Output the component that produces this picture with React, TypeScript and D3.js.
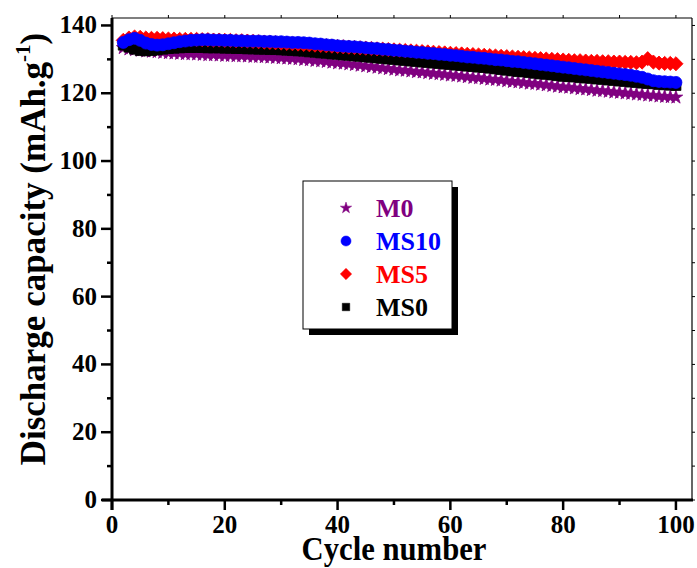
import React from "react";
import * as d3 from "d3";

const cycles = [
  2, 3, 4, 5, 6, 7, 8, 9, 10, 11, 12, 13, 14, 15, 16, 17, 18, 19, 20, 21,
  22, 23, 24, 25, 26, 27, 28, 29, 30, 31, 32, 33, 34, 35, 36, 37, 38, 39, 40, 41,
  42, 43, 44, 45, 46, 47, 48, 49, 50, 51, 52, 53, 54, 55, 56, 57, 58, 59, 60, 61,
  62, 63, 64, 65, 66, 67, 68, 69, 70, 71, 72, 73, 74, 75, 76, 77, 78, 79, 80, 81,
  82, 83, 84, 85, 86, 87, 88, 89, 90, 91, 92, 93, 94, 95, 96, 97, 98, 99, 100,
];

const m0 = [
  133.4, 133.0, 132.8, 132.6, 132.4, 132.3, 132.2, 132.0, 131.9, 131.8, 131.7, 131.6, 131.6, 131.5, 131.4, 131.3, 131.3, 131.2, 131.1, 131.1,
  131.0, 131.0, 130.9, 130.8, 130.8, 130.7, 130.6, 130.5, 130.4, 130.3, 130.2, 130.1, 129.9, 129.8, 129.6, 129.5, 129.3, 129.1, 128.9, 128.8,
  128.6, 128.4, 128.2, 128.0, 127.8, 127.6, 127.4, 127.2, 127.0, 126.8, 126.7, 126.5, 126.3, 126.2, 126.0, 125.8, 125.7, 125.5, 125.3, 125.2,
  125.0, 124.8, 124.6, 124.5, 124.3, 124.1, 124.0, 123.8, 123.6, 123.4, 123.3, 123.1, 122.9, 122.8, 122.6, 122.4, 122.2, 122.0, 121.8, 121.7,
  121.5, 121.3, 121.2, 121.0, 120.8, 120.7, 120.5, 120.3, 120.2, 120.0, 119.9, 119.7, 119.6, 119.4, 119.3, 119.1, 119.0, 118.9, 118.8,
];

const ms0 = [
  134.2, 133.6, 133.0, 132.6, 132.5, 132.6, 132.8, 133.0, 133.2, 133.3, 133.4, 133.5, 133.5, 133.5, 133.5, 133.4, 133.4, 133.4, 133.3, 133.3,
  133.2, 133.2, 133.1, 133.1, 133.0, 133.0, 132.9, 132.9, 132.8, 132.7, 132.6, 132.5, 132.4, 132.2, 132.1, 131.9, 131.8, 131.6, 131.5, 131.3,
  131.2, 131.0, 130.9, 130.7, 130.6, 130.4, 130.3, 130.1, 130.0, 129.8, 129.7, 129.5, 129.4, 129.2, 129.1, 128.9, 128.8, 128.6, 128.5, 128.3,
  128.2, 128.0, 127.9, 127.7, 127.6, 127.4, 127.2, 127.0, 126.8, 126.6, 126.4, 126.3, 126.1, 125.9, 125.7, 125.6, 125.4, 125.2, 125.0, 124.9,
  124.8, 124.6, 124.5, 124.4, 124.2, 124.1, 123.9, 123.8, 123.6, 123.5, 123.3, 123.2, 123.0, 122.9, 122.8, 122.6, 122.5, 122.4, 122.3,
];

const ms10 = [
  135.0, 135.8, 136.2, 135.6, 134.8, 134.4, 134.2, 134.3, 134.6, 134.9, 135.2, 135.4, 135.6, 135.7, 135.8, 135.8, 135.7, 135.7, 135.6, 135.6,
  135.5, 135.5, 135.4, 135.4, 135.4, 135.3, 135.3, 135.2, 135.2, 135.1, 135.0, 135.0, 134.9, 134.8, 134.6, 134.5, 134.3, 134.2, 134.0, 133.9,
  133.8, 133.7, 133.6, 133.4, 133.3, 133.2, 133.0, 132.9, 132.7, 132.6, 132.4, 132.3, 132.1, 132.0, 131.8, 131.7, 131.5, 131.4, 131.2, 131.1,
  130.9, 130.7, 130.6, 130.4, 130.3, 130.1, 129.9, 129.8, 129.6, 129.4, 129.3, 129.1, 128.9, 128.7, 128.5, 128.3, 128.1, 127.9, 127.7, 127.5,
  127.3, 127.1, 126.9, 126.7, 126.5, 126.3, 126.1, 125.9, 125.7, 125.5, 125.3, 125.0, 124.7, 124.2, 123.7, 123.5, 123.4, 123.3, 123.2,
];

const ms5 = [
  135.6, 136.3, 136.6, 136.5, 136.3, 136.2, 136.2, 136.1, 136.0, 136.0, 135.9, 135.9, 135.9, 135.9, 135.8, 135.8, 135.7, 135.7, 135.6, 135.6,
  135.5, 135.5, 135.4, 135.3, 135.2, 135.1, 135.0, 134.9, 134.8, 134.7, 134.6, 134.5, 134.4, 134.3, 134.2, 134.1, 134.0, 133.9, 133.8, 133.7,
  133.6, 133.5, 133.4, 133.3, 133.2, 133.1, 133.0, 132.9, 132.8, 132.7, 132.6, 132.5, 132.4, 132.3, 132.2, 132.1, 132.0, 131.9, 131.8, 131.7,
  131.6, 131.5, 131.4, 131.3, 131.2, 131.1, 131.0, 130.9, 130.8, 130.7, 130.6, 130.5, 130.4, 130.3, 130.2, 130.1, 130.0, 129.9, 129.8, 129.7,
  129.6, 129.6, 129.5, 129.4, 129.4, 129.3, 129.3, 129.2, 129.2, 129.1, 129.1, 129.0, 129.2, 130.2, 129.2, 128.9, 128.8, 128.8, 128.7,
];

const xTicks = [0, 20, 40, 60, 80, 100];
const yTicks = [0, 20, 40, 60, 80, 100, 120, 140];
const legendNames = ["M0", "MS10", "MS5", "MS0"];

const W = 697;
const H = 568;
const left = 112;
const right = 692;
const top = 18;
const bottom = 500;
const FONT = "'Liberation Serif', 'Times New Roman', serif";

const x = d3.scaleLinear().domain([0, 102.85]).range([left, right]);
const y = d3.scaleLinear().domain([0, 142.2]).range([bottom, top]);

const starPath = d3.symbol().type(d3.symbolStar).size(58)()!;
const circlePath = d3.symbol().type(d3.symbolCircle).size(113)()!;
const squarePath = d3.symbol().type(d3.symbolSquare).size(100)()!;
const diamondPath = d3.symbol().type(d3.symbolSquare).size(100)()!;

const legStar = d3.symbol().type(d3.symbolStar).size(40)()!;
const legCircle = d3.symbol().type(d3.symbolCircle).size(80)()!;
const legSquare = d3.symbol().type(d3.symbolSquare).size(56)()!;
const legDiamond = d3.symbol().type(d3.symbolSquare).size(64)()!;

type Series = { name: string; values: number[]; color: string; path: string; rot: number; leg: string };

const series: Series[] = [
  { name: "M0", values: m0, color: "#800080", path: starPath, rot: 0, leg: legStar },
  { name: "MS0", values: ms0, color: "#000000", path: squarePath, rot: 0, leg: legSquare },
  { name: "MS5", values: ms5, color: "#ff0000", path: diamondPath, rot: 45, leg: legDiamond },
  { name: "MS10", values: ms10, color: "#0000ff", path: circlePath, rot: 0, leg: legCircle },
];

export default function App() {
  const minorX = d3.range(0, 101, 10);
  const minorY = d3.range(0, 141, 10);
  const legX = 303;
  const legY = 181;
  const legW = 149;
  const legH = 148;
  const rowY = [208, 241, 274, 307];
  const xTitleX = (left + right) / 2 - 8;
  return (
    <svg width={W} height={H} style={{ position: "absolute", left: 0, top: 0, background: "#fff" }}>
      <rect x={0} y={0} width={W} height={H} fill="#fff" />
      {/* data */}
      {series.map((s) => (
        <g key={s.name}>
          {s.values.map((v, i) => (
            <path
              key={i}
              d={s.path}
              transform={`translate(${x(cycles[i])},${y(v)}) rotate(${s.rot})`}
              fill={s.color}
              stroke={s.color}
              strokeWidth={0.8}
            />
          ))}
        </g>
      ))}
      {/* frame top & right */}
      <line x1={left} x2={right} y1={top} y2={top} stroke="#000" strokeWidth={1.2} />
      <line x1={right} x2={right} y1={top} y2={bottom} stroke="#000" strokeWidth={1.2} />
      {minorX.map((t) => (
        <line key={"tx" + t} x1={x(t)} x2={x(t)} y1={top} y2={top - 3} stroke="#000" strokeWidth={1} />
      ))}
      {minorY.map((t) => (
        <line key={"ry" + t} x1={right} x2={right + 3} y1={y(t)} y2={y(t)} stroke="#000" strokeWidth={1} />
      ))}
      {/* x axis */}
      <line x1={left - 10} x2={right + 1} y1={bottom} y2={bottom} stroke="#000" strokeWidth={3} />
      {minorX.map((t) => (
        <line
          key={"bx" + t}
          x1={x(t)}
          x2={x(t)}
          y1={bottom}
          y2={bottom + (t % 20 === 0 ? 10 : 5)}
          stroke="#000"
          strokeWidth={2.5}
        />
      ))}
      {xTicks.map((t) => (
        <text
          key={"xl" + t}
          x={x(t)}
          y={bottom + 33}
          textAnchor="middle"
          fontFamily={FONT}
          fontWeight="bold"
          fontSize={25}
        >
          {t}
        </text>
      ))}
      {/* y axis */}
      <line x1={left} x2={left} y1={top} y2={bottom + 10} stroke="#000" strokeWidth={3} />
      {minorY.map((t) => (
        <line
          key={"ly" + t}
          x1={left}
          x2={left - (t % 20 === 0 ? 11 : 5)}
          y1={y(t)}
          y2={y(t)}
          stroke="#000"
          strokeWidth={2.5}
        />
      ))}
      {yTicks.map((t) => (
        <text
          key={"yl" + t}
          x={97}
          y={y(t) + 8}
          textAnchor="end"
          fontFamily={FONT}
          fontWeight="bold"
          fontSize={25}
        >
          {t}
        </text>
      ))}
      {/* titles */}
      <text
        transform={`translate(${xTitleX},560) scale(0.93,1)`}
        textAnchor="middle"
        fontFamily={FONT}
        fontWeight="bold"
        fontSize={33}
      >
        Cycle number
      </text>
      <text
        transform={`translate(45,${249}) rotate(-90)`}
        textAnchor="middle"
        fontFamily={FONT}
        fontWeight="bold"
        fontSize={35}
      >
        Discharge capacity (mAh.g
        <tspan fontSize={21} dy={-15}>-1</tspan>
        <tspan dy={15}>)</tspan>
      </text>
      {/* legend */}
      <rect x={legX + 6} y={legY + 6} width={legW} height={legH} fill="#000" />
      <rect x={legX} y={legY} width={legW} height={legH} fill="#fff" stroke="#000" strokeWidth={1} />
      {legendNames.map((n, i) => {
        const s = series.find((d) => d.name === n)!;
        return (
          <g key={"leg" + n}>
            <path
              d={s.leg}
              transform={`translate(346,${rowY[i]}) rotate(${s.rot})`}
              fill={s.color}
              stroke={s.color}
              strokeWidth={0.5}
            />
            <text
              x={376}
              y={rowY[i] + 9}
              fontFamily={FONT}
              fontWeight="bold"
              fontSize={26}
              fill={s.color}
            >
              {n}
            </text>
          </g>
        );
      })}
    </svg>
  );
}
